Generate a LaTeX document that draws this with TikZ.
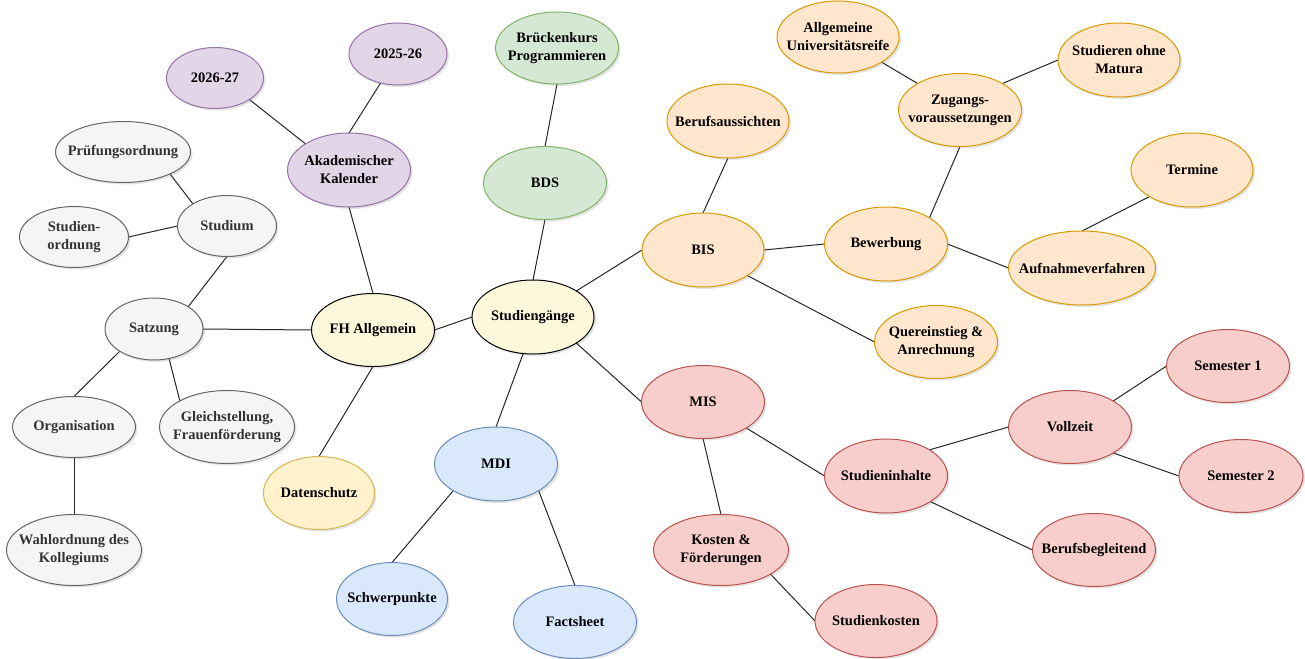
\documentclass[tikz,border=0pt]{standalone}
\usepackage{fontspec}
\setmainfont{Liberation Serif}
\usetikzlibrary{shapes.geometric,shadows,backgrounds}

\definecolor{greyfill}{HTML}{F5F5F5}\definecolor{greyline}{HTML}{666666}\definecolor{greytxt}{HTML}{333333}
\definecolor{creamfill}{HTML}{FDF8DC}
\definecolor{yelfill}{HTML}{FFF2CC}\definecolor{yelline}{HTML}{D6B656}
\definecolor{purfill}{HTML}{E1D5E7}\definecolor{purline}{HTML}{9673A6}
\definecolor{grnfill}{HTML}{D5E8D4}\definecolor{grnline}{HTML}{82B366}
\definecolor{orafill}{HTML}{FFE6CC}\definecolor{oraline}{HTML}{D79B00}
\definecolor{blufill}{HTML}{DAE8FC}\definecolor{bluline}{HTML}{6C8EBF}
\definecolor{redfill}{HTML}{F8CECC}\definecolor{redline}{HTML}{B85450}

\tikzset{
  bub/.style={ellipse, draw, line width=1pt, inner sep=0pt, outer sep=0pt,
    drop shadow={opacity=0.22, shadow xshift=2pt, shadow yshift=-2pt}},
  txt/.style={font=\fontsize{14.5}{18}\selectfont\bfseries, align=center, inner sep=0pt},
  grey/.style={fill=greyfill, draw=greyline},   grey text/.style={text=greytxt},
  cream/.style={fill=creamfill, draw=black},    cream text/.style={},
  yel/.style={fill=yelfill, draw=yelline},      yel text/.style={},
  pur/.style={fill=purfill, draw=purline},      pur text/.style={},
  grn/.style={fill=grnfill, draw=grnline},      grn text/.style={},
  ora/.style={fill=orafill, draw=oraline},      ora text/.style={},
  blu/.style={fill=blufill, draw=bluline},      blu text/.style={},
  red/.style={fill=redfill, draw=redline},      red text/.style={},
  link/.style={draw=black!85, line width=1pt},
}

% name, x, y, width, height, colour family, text
\newcommand\bubble[7]{%
  \node[bub, #6, minimum width=#4pt, minimum height=#5pt,
        label={[txt, #6 text]center:{#7}}] (#1) at (#2,#3) {};}

\begin{document}
\begin{tikzpicture}[x=1pt, y=-1pt]
\useasboundingbox (0,0) rectangle (1305,658);

% left branch: FH Allgemein
\bubble{fh}{373}{330}{123}{73}{cream}{FH Allgemein}
\bubble{ak}{349}{170}{123}{74}{pur}{Akademischer\\Kalender}
\bubble{ya}{215}{78}{97}{61}{pur}{2026-27}
\bubble{yb}{398}{54}{98}{62}{pur}{2025-26}
\bubble{satz}{154}{329}{98}{62}{grey}{Satzung}
\bubble{stud}{227}{226}{99}{61}{grey}{Studium}
\bubble{pruef}{123}{152}{135}{61}{grey}{Prüfungsordnung}
\bubble{sord}{74}{237}{109}{61}{grey}{Studien-\\ordnung}
\bubble{org}{74}{427}{123}{61}{grey}{Organisation}
\bubble{gleich}{227}{427}{135}{73}{grey}{Gleichstellung,\\Frauenförderung}
\bubble{wahl}{74}{550}{135}{71}{grey}{Wahlordnung des\\Kollegiums}
\bubble{daten}{319}{493}{111}{73}{yel}{Datenschutz}

% right branch: Studiengänge
\bubble{stg}{533}{317}{122}{74}{cream}{Studiengänge}
\bubble{bds}{545}{183}{123}{73}{grn}{BDS}
\bubble{brk}{557}{48}{123}{72}{grn}{Brückenkurs\\Programmieren}
\bubble{bis}{703}{250}{122}{74}{ora}{BIS}
\bubble{beruf}{728}{121}{122}{74}{ora}{Berufsaussichten}
\bubble{bew}{886}{244}{123}{74}{ora}{Bewerbung}
\bubble{zug}{960}{110}{123}{73}{ora}{Zugangs-\\voraussetzungen}
\bubble{allg}{838}{37}{122}{72}{ora}{Allgemeine\\Universitätsreife}
\bubble{som}{1119}{60}{122}{74}{ora}{Studieren ohne\\Matura}
\bubble{auf}{1082}{268}{147}{74}{ora}{Aufnahmeverfahren}
\bubble{term}{1192}{170}{122}{74}{ora}{Termine}
\bubble{quer}{936}{342}{123}{73}{ora}{Quereinstieg \&\\Anrechnung}
\bubble{mdi}{496}{464}{123}{74}{blu}{MDI}
\bubble{schw}{392}{599}{111}{73}{blu}{Schwerpunkte}
\bubble{fact}{575}{622}{123}{73}{blu}{Factsheet}
\bubble{mis}{703}{402}{123}{73}{red}{MIS}
\bubble{kost}{721}{550}{135}{71}{red}{Kosten \&\\Förderungen}
\bubble{skost}{876}{621}{122}{73}{red}{Studienkosten}
\bubble{inh}{886}{476}{123}{74}{red}{Studieninhalte}
\bubble{voll}{1070}{427}{123}{73}{red}{Vollzeit}
\bubble{semA}{1228}{366}{123}{73}{red}{Semester 1}
\bubble{semB}{1241}{476}{124}{73}{red}{Semester 2}
\bubble{bbg}{1094}{550}{123}{73}{red}{Berufsbegleitend}

\begin{scope}[on background layer]
  \path[link] (fh.north) -- (ak.south);
  \path[link] (ak.149) -- (ya.-32);
  \path[link] (ak.north) -- (yb.-121);
  \path[link] (fh.west) -- (satz.east);
  \path[link] (satz.33) -- (stud.south);
  \path[link] (stud.147) -- (pruef.-25);
  \path[link] (stud.west) -- (sord.east);
  \path[link] (satz.-147) -- (org.north);
  \path[link] (satz.-63) -- (gleich.151);
  \path[link] (org.south) -- (wahl.north);
  \path[link] (fh.south) -- (daten.north);
  \path[link] (fh.east) -- (stg.west);
  \path[link] (stg.north) -- (bds.south);
  \path[link] (bds.north) -- (brk.south);
  \path[link] (stg.31) -- (bis.west);
  \path[link] (bis.north) -- (beruf.south);
  \path[link] (bis.east) -- (bew.west);
  \path[link] (bis.-30) -- (quer.west);
  \path[link] (bew.31) -- (zug.south);
  \path[link] (zug.148) -- (allg.-30);
  \path[link] (zug.32) -- (som.west);
  \path[link] (bew.east) -- (auf.west);
  \path[link] (auf.north) -- (term.-148);
  \path[link] (stg.-105) -- (mdi.north);
  \path[link] (mdi.-148) -- (schw.north);
  \path[link] (mdi.-32) -- (fact.north);
  \path[link] (stg.-31) -- (mis.west);
  \path[link] (mis.south) -- (kost.north);
  \path[link] (mis.-31) -- (inh.west);
  \path[link] (kost.-26) -- (skost.west);
  \path[link] (inh.31) -- (voll.west);
  \path[link] (voll.31) -- (semA.west);
  \path[link] (voll.-31) -- (semB.west);
  \path[link] (inh.-30) -- (bbg.west);
\end{scope}
\end{tikzpicture}
\end{document}
